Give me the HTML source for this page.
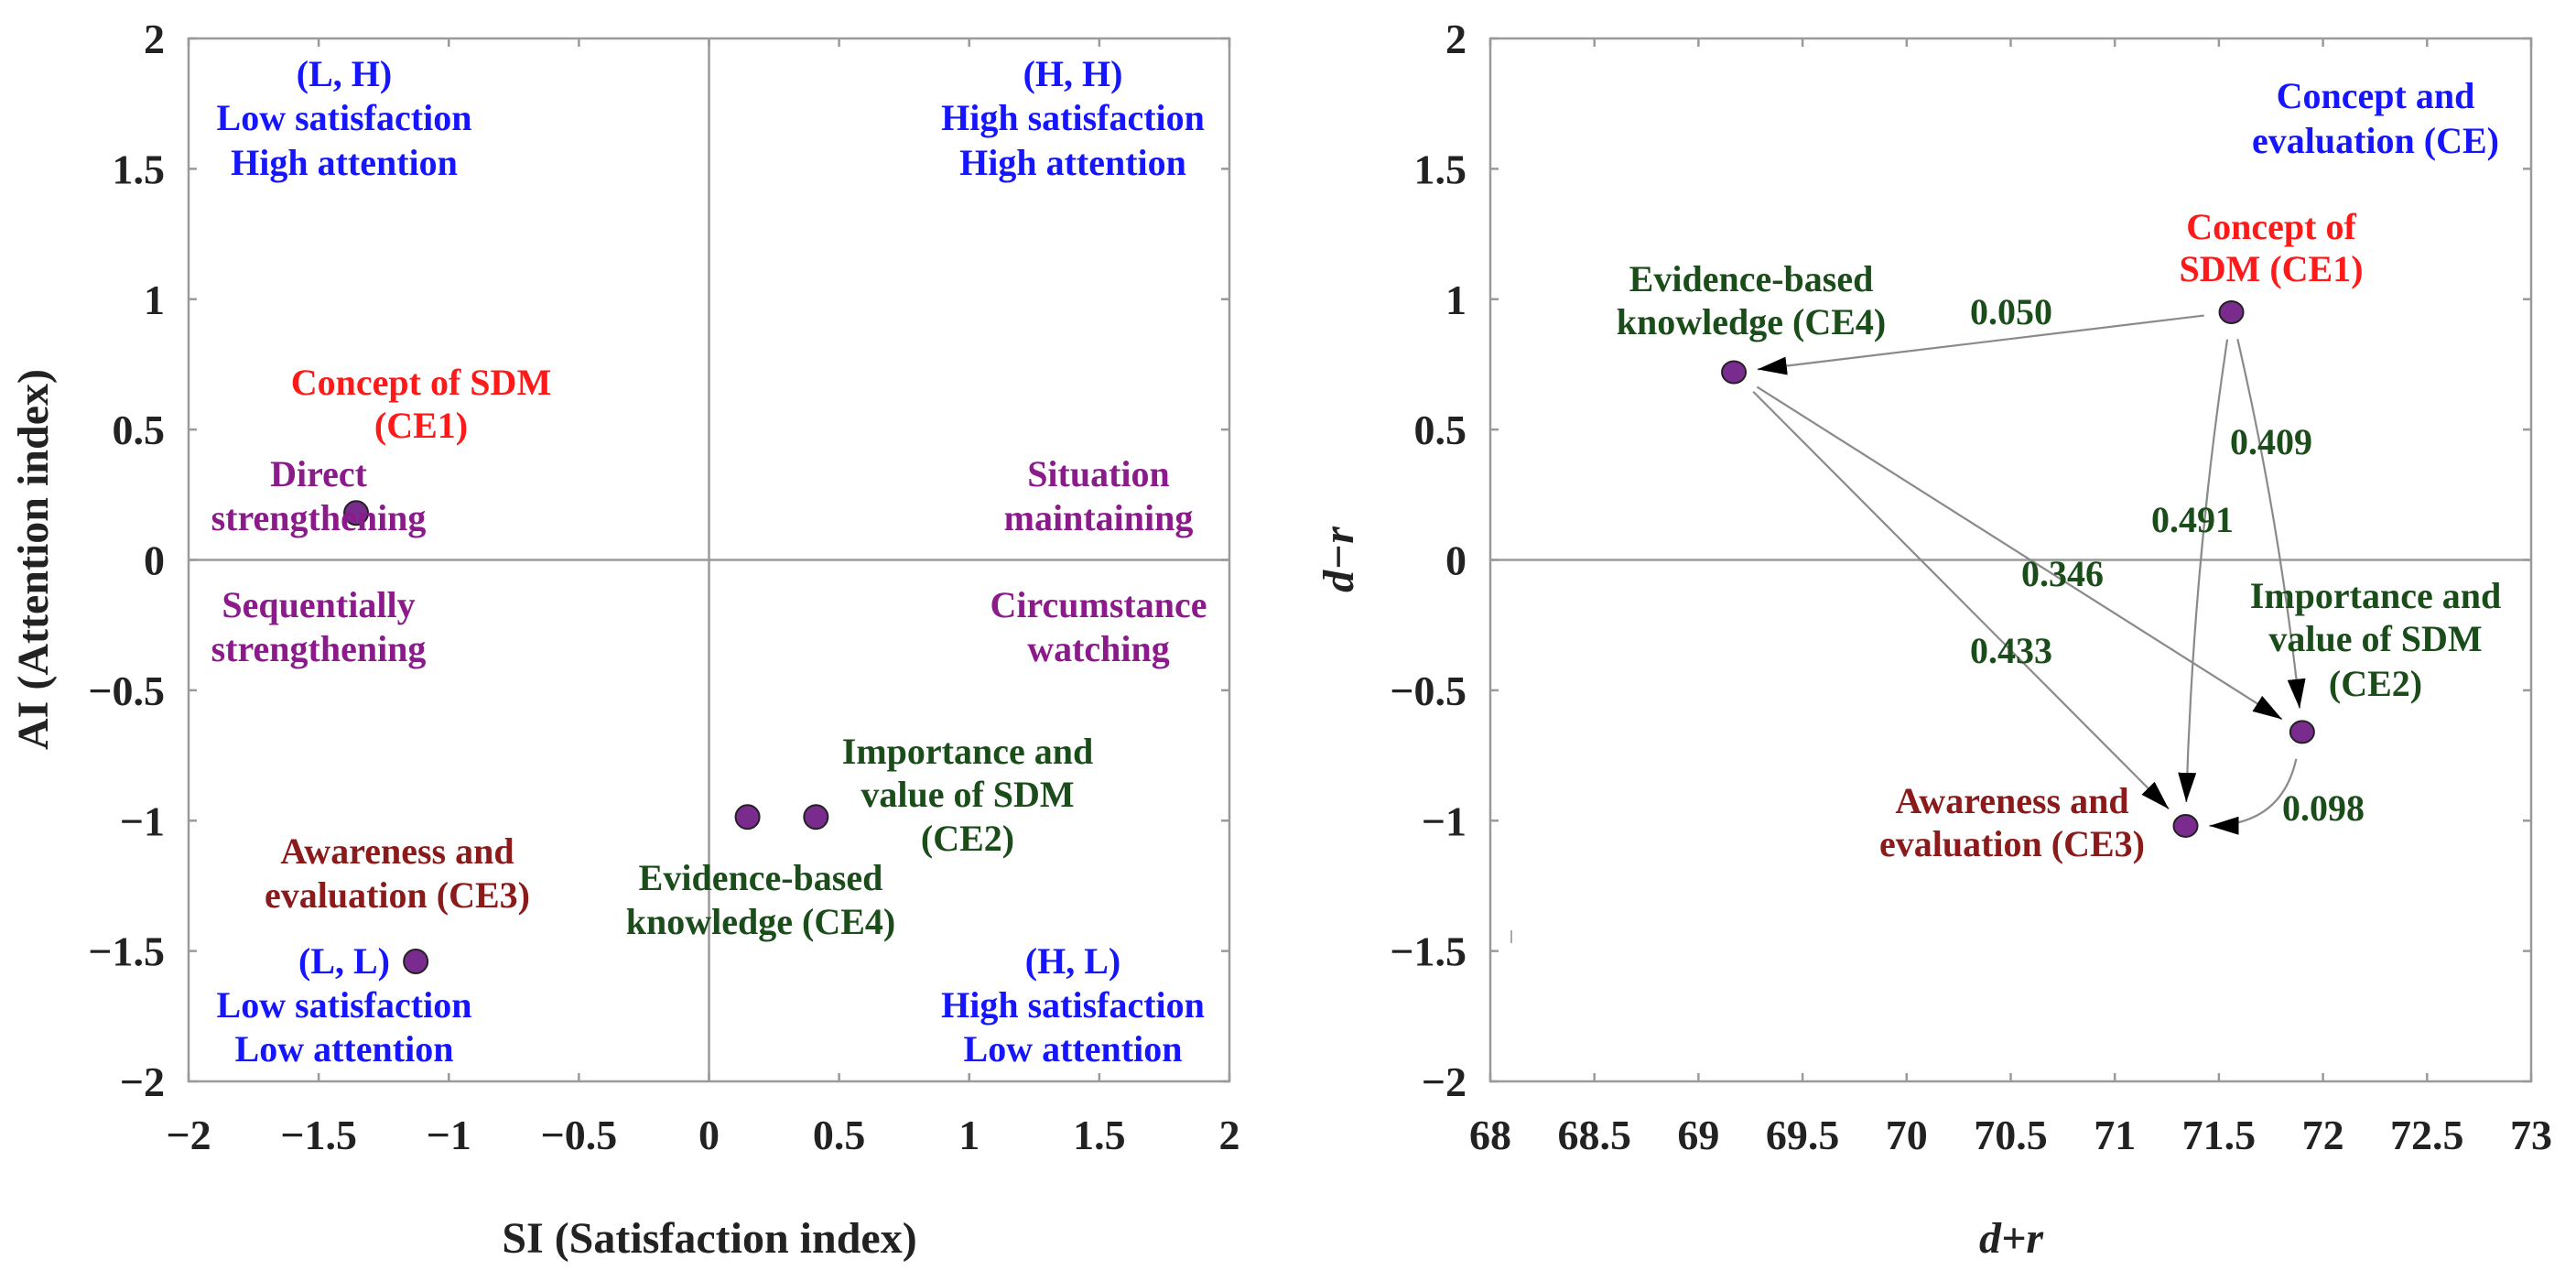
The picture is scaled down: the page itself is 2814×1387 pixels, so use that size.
<!DOCTYPE html>
<html><head><meta charset="utf-8"><style>
html,body{margin:0;padding:0;background:#fff;}
svg{display:block;font-family:"Liberation Serif",serif;font-weight:bold;}
</style></head><body>
<svg id="fig" width="2814" height="1387" viewBox="0 0 2814 1387" xmlns="http://www.w3.org/2000/svg">
<defs>
<marker id="arr" viewBox="0 0 32 20" refX="32" refY="10" markerWidth="32" markerHeight="20" markerUnits="userSpaceOnUse" orient="auto">
<path d="M0,0 L32,10 L0,20 Z" fill="#000"/></marker>
</defs>
<g id="left"></g>
<g id="right"></g>
<g font-size="40" text-anchor="middle">
<text x="376" y="94" fill="#1515ff">(L, H)</text>
<text x="376" y="142" fill="#1515ff">Low satisfaction</text>
<text x="376" y="191" fill="#1515ff">High attention</text>
<text x="1172" y="94" fill="#1515ff">(H, H)</text>
<text x="1172" y="142" fill="#1515ff">High satisfaction</text>
<text x="1172" y="191" fill="#1515ff">High attention</text>
<text x="376" y="1063" fill="#1515ff">(L, L)</text>
<text x="376" y="1111" fill="#1515ff">Low satisfaction</text>
<text x="376" y="1159" fill="#1515ff">Low attention</text>
<text x="1172" y="1063" fill="#1515ff">(H, L)</text>
<text x="1172" y="1111" fill="#1515ff">High satisfaction</text>
<text x="1172" y="1159" fill="#1515ff">Low attention</text>
<text x="460" y="431" fill="#ff1a1a">Concept of SDM</text>
<text x="460" y="478" fill="#ff1a1a">(CE1)</text>
<text x="348" y="531" fill="#8b1a8b">Direct</text>
<text x="348" y="579" fill="#8b1a8b">strengthening</text>
<text x="1200" y="531" fill="#8b1a8b">Situation</text>
<text x="1200" y="579" fill="#8b1a8b">maintaining</text>
<text x="348" y="674" fill="#8b1a8b">Sequentially</text>
<text x="348" y="722" fill="#8b1a8b">strengthening</text>
<text x="1200" y="674" fill="#8b1a8b">Circumstance</text>
<text x="1200" y="722" fill="#8b1a8b">watching</text>
<text x="1057" y="834" fill="#1a4d1a">Importance and</text>
<text x="1057" y="881" fill="#1a4d1a">value of SDM</text>
<text x="1057" y="929" fill="#1a4d1a">(CE2)</text>
<text x="831" y="972" fill="#1a4d1a">Evidence-based</text>
<text x="831" y="1020" fill="#1a4d1a">knowledge (CE4)</text>
<text x="434" y="943" fill="#8b1a1a">Awareness and</text>
<text x="434" y="991" fill="#8b1a1a">evaluation (CE3)</text>
</g>
<g font-size="40" text-anchor="middle">
<text x="2595" y="118" fill="#1515ff">Concept and</text>
<text x="2595" y="167" fill="#1515ff">evaluation (CE)</text>
<text x="2481" y="261" fill="#ff1a1a">Concept of</text>
<text x="2481" y="307" fill="#ff1a1a">SDM (CE1)</text>
<text x="1913" y="318" fill="#1a4d1a">Evidence-based</text>
<text x="1913" y="365" fill="#1a4d1a">knowledge (CE4)</text>
<text x="2595" y="664" fill="#1a4d1a">Importance and</text>
<text x="2595" y="711" fill="#1a4d1a">value of SDM</text>
<text x="2595" y="760" fill="#1a4d1a">(CE2)</text>
<text x="2198" y="888" fill="#8b1a1a">Awareness and</text>
<text x="2198" y="935" fill="#8b1a1a">evaluation (CE3)</text>
</g>
<script>
const NS="http://www.w3.org/2000/svg";
// left chart data
const leftTicks=[-2,-1.5,-1,-0.5,0,0.5,1,1.5,2];
const leftNames=["CE1","CE2","CE3","CE4"];
const leftSI=[-1.356,0.411,-1.127,0.148];
const leftAI=[0.18,-0.986,-1.54,-0.986];
// right chart data
const rightXTicks=[68,68.5,69,69.5,70,70.5,71,71.5,72,72.5,73];
const rightYTicks=[-2,-1.5,-1,-0.5,0,0.5,1,1.5,2];
const rightNames=["CE1","CE2","CE3","CE4"];
const rightDplusR=[71.56,71.90,71.34,69.17];
const rightDminusR=[0.95,-0.66,-1.02,0.72];
const edgeFrom=[0,0,0,3,3,1];
const edgeTo=[3,1,2,1,2,2];
const edgeWeights=["0.050","0.409","0.491","0.346","0.433","0.098"];
const edgeBend=[0,0.03,-0.03,0,0,0.4];
const edgeLabelX=[2197,2481,2395,2253,2197,2538];
const edgeLabelY=[340,482,567,626,710,882];

function mk(tag,attrs,parent){const e=document.createElementNS(NS,tag);for(const k in attrs)e.setAttribute(k,attrs[k]);parent.appendChild(e);return e;}
function fmt(v){return (v<0?"\u2212":"")+String(Math.abs(v));}

function axes(g,x0,x1,y0,y1,xs,ys,xT,yT,zeroX){
  const T=9;
  mk("rect",{x:x0,y:y0,width:x1-x0,height:y1-y0,fill:"none",stroke:"#9a9a9a","stroke-width":2.5},g);
  xT.forEach(v=>{const x=xs(v);
    mk("line",{x1:x,y1:y1,x2:x,y2:y1-T,stroke:"#9a9a9a","stroke-width":2.5},g);
    mk("line",{x1:x,y1:y0,x2:x,y2:y0+T,stroke:"#9a9a9a","stroke-width":2.5},g);
    const t=mk("text",{x:x,y:y1+74,"font-size":46,"text-anchor":"middle",fill:"#222"},g);t.textContent=fmt(v);
    
    
  });
  yT.forEach(v=>{const y=ys(v);
    mk("line",{x1:x0,y1:y,x2:x0+T,y2:y,stroke:"#9a9a9a","stroke-width":2.5},g);
    mk("line",{x1:x1,y1:y,x2:x1-T,y2:y,stroke:"#9a9a9a","stroke-width":2.5},g);
    const t=mk("text",{x:x0-26,y:y+16,"font-size":46,"text-anchor":"end",fill:"#222"},g);t.textContent=fmt(v);
    
    
  });
  const zl=mk("line",{x1:x0,y1:ys(0),x2:x1,y2:ys(0),stroke:"#9a9a9a","stroke-width":2.5},g);
  
  if(zeroX){const z=mk("line",{x1:xs(0),y1:y0,x2:xs(0),y2:y1,stroke:"#9a9a9a","stroke-width":2.5},g);
    }
}

// LEFT
const L=document.getElementById("left");
const lx=v=>206+(v+2)/4*1137, ly=v=>42+(2-v)/4*1139;
axes(L,206,1343,42,1181,lx,ly,leftTicks,leftTicks,true);
let t=mk("text",{x:775,y:1368,"font-size":48,"text-anchor":"middle",fill:"#222"},L);t.textContent="SI (Satisfaction index)";

t=mk("text",{transform:"translate(52,611) rotate(-90)","font-size":48,"text-anchor":"middle",fill:"#222"},L);t.textContent="AI (Attention index)";

leftSI.forEach((v,i)=>{const c=mk("circle",{cx:lx(v),cy:ly(leftAI[i]),r:13,fill:"#7a2b8e",stroke:"#222","stroke-width":2},L);
  
  });

// RIGHT
const R=document.getElementById("right");
const rx=v=>1628+(v-68)/5*1137, ry=v=>42+(2-v)/4*1139;
axes(R,1628,2765,42,1181,rx,ry,rightXTicks,rightYTicks,false);
t=mk("text",{x:2197,y:1368,"font-size":48,"text-anchor":"middle",fill:"#222","font-style":"italic"},R);t.textContent="d+r";

t=mk("text",{transform:"translate(1478,611) rotate(-90)","font-size":48,"text-anchor":"middle",fill:"#222","font-style":"italic"},R);t.textContent="d\u2212r";

mk("line",{x1:1651,y1:1016,x2:1651,y2:1030,stroke:"#aaa","stroke-width":2},R);
edgeFrom.forEach((f,i)=>{
  const a=[rx(rightDplusR[f]),ry(rightDminusR[f])], b=[rx(rightDplusR[edgeTo[i]]),ry(rightDminusR[edgeTo[i]])];
  const dx=b[0]-a[0], dy=b[1]-a[1];
  const k=edgeBend[i];
  const c=[(a[0]+b[0])/2+k*dy,(a[1]+b[1])/2-k*dx];
  const u1=[c[0]-a[0],c[1]-a[1]], n1=Math.hypot(u1[0],u1[1]);
  const u2=[b[0]-c[0],b[1]-c[1]], n2=Math.hypot(u2[0],u2[1]);
  const s=[a[0]+u1[0]/n1*30,a[1]+u1[1]/n1*30], e=[b[0]-u2[0]/n2*26,b[1]-u2[1]/n2*26];
  const p=mk("path",{d:`M${s[0]},${s[1]} Q${c[0]},${c[1]} ${e[0]},${e[1]}`,fill:"none",stroke:"#8a8a8a","stroke-width":2.2,"marker-end":"url(#arr)"},R);
  
  
  const l=mk("text",{x:edgeLabelX[i],y:edgeLabelY[i]+14,"font-size":40,"text-anchor":"middle",fill:"#1a4d1a"},R);l.textContent=edgeWeights[i];
  
  
});
rightDplusR.forEach((v,i)=>{const c=mk("ellipse",{cx:rx(v),cy:ry(rightDminusR[i]),rx:13,ry:12,fill:"#7a2b8e",stroke:"#222","stroke-width":2},R);
  
  });
</script>
</svg>
</body></html>
